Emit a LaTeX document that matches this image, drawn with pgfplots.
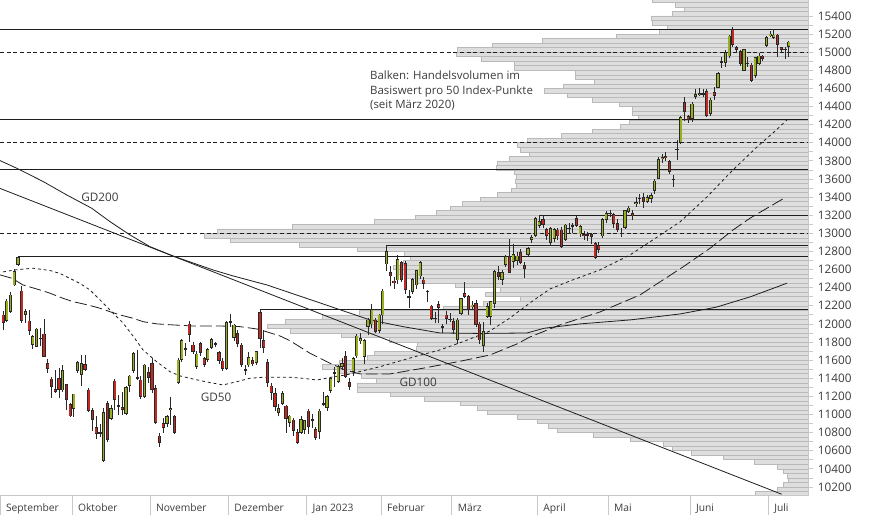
\documentclass[border=0pt]{standalone}
\usepackage{pgfplots}
\pgfplotsset{compat=1.18}
\usepackage{pgfplotstable}
\usepackage{fontspec}
\setmainfont{Open Sans}

\definecolor{upc}{RGB}{155,174,32}
\definecolor{dnc}{RGB}{192,42,34}
\definecolor{edge}{RGB}{40,40,40}
\definecolor{volfill}{RGB}{222,222,222}
\definecolor{volline}{RGB}{185,185,185}
\definecolor{axisgray}{RGB}{200,200,200}
\definecolor{txt}{RGB}{60,60,60}
\definecolor{lvl}{RGB}{30,30,30}

% daily candles: k = trading day since 6 Sep 2022
\pgfplotstableread{
k o h l c
0 12099 12147 11933 12014
1 12036 12272 12025 12254
2 12136 12357 12125 12320
3 12430 12603 12423 12577
4 12651 12750 12644 12736
5 12364 12419 12007 12036
6 12099 12165 12014 12136
7 12033 12154 11878 11926
8 11768 11878 11720 11860
9 11749 11952 11742 11944
10 11835 11952 11757 11845
11 11889 12055 11639 11639
12 11565 11613 11462 11510
13 11392 11418 11179 11308
14 11278 11492 11234 11253
15 11400 11510 11179 11278
16 11271 11547 11253 11484
17 11334 11337 11050 11168
18 11113 11124 10977 10984
19 11069 11227 10977 11227
20 11484 11595 11462 11576
21 11437 11657 11319 11565
22 11554 11657 11484 11492
23 11271 11293 11032 11043
24 11043 11069 10822 10940
25 10859 10984 10726 10793
26 10805 10892 10756 10795
27 10491 11069 10472 11024
28 11124 11153 10700 10720
29 10960 11100 10940 11069
30 11371 11390 11050 11161
31 11090 11216 10995 11100
32 11080 11250 10990 11058
33 11007 11320 10990 11301
34 11316 11440 11250 11426
35 11485 11690 11460 11676
36 11405 11713 11382 11398
37 11382 11426 11168 11198
38 11198 11560 11180 11547
39 11463 11520 11350 11411
40 11566 11620 11240 11279
41 11290 11330 10900 10911
42 10764 10800 10646 10690
43 10903 10960 10800 10856
44 10903 11000 10860 10977
45 11050 11190 10885 11065
46 10977 11000 10790 10800
47 11352 11620 11340 11603
48 11603 11830 11580 11816
49 11725 11790 11650 11715
50 12000 12030 11800 11879
51 11768 11800 11670 11695
52 11529 11700 11500 11669
53 11787 11800 11650 11687
54 11621 11640 11520 11555
55 11603 11730 11580 11720
56 11739 11850 11720 11831
57 11770 11800 11740 11780
58 11684 11700 11560 11592
59 11592 11620 11480 11511
60 11511 12030 11490 12015
61 12020 12110 11970 12030
62 11853 12000 11810 11989
63 11897 11930 11740 11787
64 11768 11790 11520 11555
65 11495 11550 11440 11490
66 11547 11690 11520 11632
67 11595 11640 11540 11558
68 11573 11700 11550 11695
69 12125 12160 11730 11842
70 11816 11930 11680 11742
71 11573 11610 11300 11352
72 11316 11350 11160 11242
73 11235 11290 11040 11087
74 11021 11120 10980 11069
75 11117 11260 11100 11235
76 11095 11110 10800 10959
77 10911 11000 10860 10984
78 10940 10960 10760 10822
79 10804 10840 10680 10690
80 10800 10980 10780 10948
81 10830 10940 10780 10933
82 11040 11060 10790 10867
83 10935 11010 10850 10945
84 10837 10860 10720 10745
85 10812 11060 10730 11040
86 11120 11250 11090 11110
87 11080 11210 11040 11198
88 11264 11410 11240 11400
89 11455 11520 11300 11465
90 11363 11550 11350 11529
91 11528 11620 11490 11565
92 11639 11700 11400 11418
93 11352 11400 11270 11307
94 11473 11640 11420 11620
95 11646 11890 11620 11867
96 11815 11900 11780 11841
97 11639 11830 11560 11815
98 11970 12060 11880 12043
99 11999 12220 11960 12161
100 12043 12060 11900 11915
101 11926 12110 11900 12099
102 12099 12390 12000 12364
103 12662 12870 12580 12798
104 12566 12640 12420 12529
105 12475 12520 12390 12460
106 12485 12760 12440 12713
107 12676 12700 12460 12492
108 12669 12700 12330 12382
109 12300 12370 12180 12305
110 12356 12510 12330 12492
111 12430 12600 12380 12588
112 12529 12690 12500 12680
113 12485 12520 12390 12448
114 12360 12380 12240 12365
115 12198 12210 12040 12062
116 12060 12136 12007 12065
117 12217 12250 12007 12180
118 11975 12000 11897 11968
119 12099 12140 12000 12062
120 12055 12120 12020 12045
121 12026 12060 11890 11934
122 11831 12060 11780 12044
123 12118 12290 12100 12283
124 12339 12467 12290 12302
125 12302 12320 12100 12155
126 12195 12250 12150 12210
127 12228 12260 11970 11989
128 12000 12020 11780 11823
129 11757 12020 11695 11915
130 12081 12230 12060 12191
131 12081 12255 11990 12247
132 12221 12590 12180 12578
133 12567 12640 12490 12523
134 12493 12600 12430 12567
135 12651 12760 12630 12743
136 12743 12935 12560 12570
137 12690 12880 12620 12770
138 12699 12790 12650 12751
139 12787 12830 12660 12677
140 12648 12680 12510 12615
141 12762 12850 12740 12835
142 12935 12980 12890 12957
143 12972 13180 12960 13167
144 13082 13200 13060 13130
145 13156 13200 13060 13100
146 13045 13060 12930 12972
147 12898 13070 12860 13056
148 12946 13060 12900 13045
149 13038 13060 12930 12971
150 13038 13070 12840 12854
151 12935 13100 12910 13093
152 13060 13110 12990 13052
153 13075 13110 13000 13085
154 13166 13200 13070 13082
155 12993 13090 12960 13074
156 12990 13030 12930 12970
157 12978 13020 12920 12986
158 12985 13000 12880 12968
159 12890 12900 12720 12732
160 12861 12909 12780 12817
161 12971 13170 12950 13155
162 13148 13250 13110 13222
163 13218 13260 13180 13226
164 13210 13230 13060 13111
165 13111 13160 13020 13038
166 13005 13060 12960 12995
167 13063 13260 13050 13251
168 13244 13300 13220 13280
169 13222 13260 13150 13192
170 13325 13400 13290 13340
171 13385 13430 13320 13390
172 13398 13440 13280 13347
173 13350 13420 13330 13398
174 13387 13450 13340 13420
175 13472 13600 13430 13578
176 13608 13840 13600 13818
177 13820 13880 13780 13838
178 13845 13900 13800 13832
179 13790 13810 13660 13678
180 13600 13645 13516 13595
181 13925 14031 13810 13930
182 14000 14290 13990 14281
183 14443 14502 14244 14344
184 14290 14310 14220 14259
185 14270 14450 14230 14428
186 14512 14590 14480 14535
187 14530 14600 14520 14546
188 14540 14590 14500 14546
189 14564 14590 14280 14296
190 14318 14490 14300 14472
191 14557 14610 14470 14524
192 14612 14780 14600 14767
193 14892 14950 14820 14900
194 14888 15020 14840 14995
195 14958 15190 14940 15179
196 15245 15280 15060 15080
197 15054 15070 15000 15032
198 15006 15020 14850 14870
199 14796 15040 14790 15032
200 14880 14950 14840 14875
201 14859 14880 14670 14686
202 14741 14950 14720 14940
203 14870 14990 14860 14958
204 14958 14970 14900 14932
205 15076 15180 15060 15164
206 15186 15230 15170 15201
207 15164 15260 15150 15190
208 15190 15200 14950 15083
209 15054 15060 15000 15032
210 15030 15054 14921 15035
211 15061 15125 14950 15113
}\candles

% volume profile: p = lower bound of the 50-point band, len = bar length
\pgfplotstableread{
p len
15550 156
15500 133
15450 124
15400 136
15350 157
15300 156
15250 141
15200 149
15150 192
15100 266
15050 316
15000 351
14950 352
14900 327
14850 294
14800 294
14750 233
14700 233
14650 214
14600 245
14550 264
14500 241
14450 216
14400 189
14350 176
14300 176
14250 170
14200 179
14150 188
14100 216
14050 247
14000 281
13950 291
13900 288
13850 279
13800 299
13750 311
13700 312
13650 294
13600 292
13550 293
13500 292
13450 297
13400 311
13350 328
13300 346
13250 358
13200 372
13150 393
13100 434
13050 516
13000 591
12950 604
12900 578
12850 509
12800 451
12750 404
12700 398
12650 405
12600 415
12550 412
12500 404
12450 393
12400 353
12350 308
12300 323
12250 288
12200 325
12150 365
12100 449
12050 486
12000 523
11950 541
11900 518
11850 467
11800 419
11750 391
11700 392
11650 434
11600 441
11550 469
11500 486
11450 469
11400 447
11350 432
11300 451
11250 451
11200 418
11150 384
11100 348
11050 331
11000 321
10950 291
10900 271
10850 260
10800 251
10750 215
10700 178
10650 145
10600 136
10550 117
10500 85
10450 54
10400 31
10350 25
10300 21
10250 20
10200 25
10150 31
10100 53
}\vol

\newcommand\tickfont{\fontsize{8.8}{10}\selectfont}
\newcommand\monthfont{\fontsize{7.7}{9}\selectfont}
\newcommand\notefont{\fontsize{8.6}{10.9}\selectfont}

\pgfplotsset{
  chartframe/.style={
    at={(0pt,14.5pt)}, anchor=south west, scale only axis,
    width=606.2pt, height=371.8pt,
    ymin=10104, ymax=15576.6,
  },
  candle/.style={draw=none, mark=none,
    error bars/y dir=both, error bars/y explicit, error bars/error mark=none,
    error bars/error bar style={#1}},
}

\begin{document}
\begin{tikzpicture}
\useasboundingbox (0,0) rectangle (655.5pt,386.25pt);

% volume profile, bars grow leftwards from the price axis
\begin{axis}[chartframe, hide axis, x dir=reverse, xmin=0, xmax=808.3,
  xbar, bar width=50]
\addplot[fill=volfill, draw=volline, line width=0.45pt]
  table[x=len, y expr=\thisrow{p}+25] {\vol};
\end{axis}

\begin{axis}[chartframe, xmin=-0.336, xmax=216.75,
  axis x line*=bottom, axis y line*=right,
  axis line style={axisgray, line width=0.6pt},
  tick align=outside, major tick length=3.75pt, minor tick length=3.75pt,
  ytick={10200,10400,...,15400}, minor y tick num=1,
  scaled y ticks=false,
  ytick style={axisgray, line width=0.6pt},
  xtick={-0.336,19,40,61,82,102,121,144,163,185,206},
  xticklabels={September,Oktober,November,Dezember,Jan 2023,Februar,März,April,Mai,Juni,Juli},
  xtick style={axisgray, line width=0.6pt, /pgfplots/major tick length=14.5pt},
  xticklabel style={anchor=north west, font=\monthfont, text=txt, xshift=1pt, yshift=1.2pt},
  yticklabel style={font=\tickfont, text=txt, /pgf/number format/1000 sep={}},
  /pgf/number format/assume math mode=true,
]
% horizontal levels
\addplot[lvl, line width=0.7pt] coordinates {(-0.336,15255) (216.75,15255)};
\addplot[lvl, line width=0.7pt, dash pattern=on 3pt off 2pt] coordinates {(-0.336,15000) (216.75,15000)};
\addplot[lvl, line width=0.7pt] coordinates {(-0.336,14262) (216.75,14262)};
\addplot[lvl, line width=0.7pt, dash pattern=on 3pt off 2pt] coordinates {(-0.336,14000) (216.75,14000)};
\addplot[lvl, line width=0.7pt] coordinates {(-0.336,13708) (216.75,13708)};
\addplot[lvl, line width=0.7pt] coordinates {(144.5,13195) (216.75,13195)};
\addplot[lvl, line width=0.7pt, dash pattern=on 3pt off 2pt] coordinates {(-0.336,13000) (216.75,13000)};
\addplot[lvl, line width=0.7pt] coordinates {(103.5,12870) (216.75,12870)};
\addplot[lvl, line width=0.7pt] coordinates {(4.5,12750) (216.75,12750)};
\addplot[lvl, line width=0.7pt] coordinates {(69.5,12160) (216.75,12160)};

% trend line
\addplot[lvl, line width=0.6pt] coordinates {(-0.336,13496) (209.6,10120)};

% GD200
\addplot[lvl, line width=0.6pt] coordinates {
(-0.336,13803) (4.15,13719) (11.29,13571) (17.58,13424) (24.29,13277) (29.21,13129)
(34.58,12982) (39.95,12853) (46.13,12750) (56.87,12596) (62.24,12530) (71.37,12430)
(85.61,12232) (99.04,12044) (107.9,11970) (117.83,11900) (128.6,11895) (141.2,11900)
(145.8,11952) (155.4,12000) (168.85,12044) (182.3,12110) (191.96,12184) (201.1,12298)
(211.0,12449)};

% GD100
\addplot[lvl, line width=0.6pt, dash pattern=on 9pt off 3pt] coordinates {
(-0.336,12541) (2.89,12504) (5.84,12430) (10.41,12375) (13.09,12339) (16.58,12283)
(19.27,12246) (23.3,12209) (26.52,12173) (29.21,12135) (31.89,12099) (35.38,12063)
(38.07,12025) (41.83,12000) (46.13,11989) (51.5,11977) (58.75,11977) (64.12,11970)
(68.69,11944) (70.3,11926) (74.87,11867) (77.55,11815) (82.92,11676) (88.29,11566)
(92.32,11492) (96.35,11448) (104.4,11448) (113.27,11511) (122.67,11583) (131.26,11657)
(138.51,11779) (142.0,11856) (146.03,11922) (150.06,11989) (160.8,12132) (171.55,12320)
(183.1,12629) (190.35,12835) (196.53,13037) (201.1,13167) (205.65,13277) (210.5,13394)};

% GD50
\addplot[lvl, line width=0.6pt, dash pattern=on 2.2pt off 2.2pt] coordinates {
(0.47,12574) (3.69,12596) (8.53,12615) (13.09,12590) (15.78,12557) (18.47,12502)
(21.15,12447) (23.83,12375) (26.52,12265) (29.21,12154) (32.7,12011) (35.38,11867)
(38.07,11713) (41.83,11580) (45.32,11473) (48.0,11426) (51.5,11392) (55.26,11359)
(59.55,11326) (63.31,11363) (66.8,11400) (70.3,11411) (77.55,11411) (81.04,11400)
(84.8,11381) (89.1,11415) (92.59,11437) (101.72,11528) (111.12,11639) (117.83,11713)
(124.55,11812) (131.26,11922) (136.63,12066) (142.0,12232) (147.37,12386) (152.74,12474)
(160.8,12596) (168.85,12761) (175.8,12949) (182.3,13126) (189.54,13402) (196.53,13700)
(202.97,13954) (207.27,14108) (211.03,14252)};

% candles: wicks, dark body, coloured core
\addplot[candle={draw=edge, line width=0.6pt}]
  table[x expr=\thisrow{k}+0.5, y expr=(\thisrow{h}+\thisrow{l})/2,
        y error expr=(\thisrow{h}-\thisrow{l})/2] {\candles};
\addplot[candle={draw=edge, line width=2.4pt}]
  table[x expr=\thisrow{k}+0.5, y expr=(\thisrow{o}+\thisrow{c})/2,
        y error expr=abs(\thisrow{c}-\thisrow{o})/2+4] {\candles};
\addplot[candle={draw=upc, line width=1.2pt},
  restrict expr to domain={\thisrow{c}-\thisrow{o}}{0:100000}]
  table[x expr=\thisrow{k}+0.5, y expr=(\thisrow{o}+\thisrow{c})/2,
        y error expr={max(abs(\thisrow{c}-\thisrow{o})/2-5,0)}] {\candles};
\addplot[candle={draw=dnc, line width=1.2pt},
  restrict expr to domain={\thisrow{c}-\thisrow{o}}{-100000:-0.5}]
  table[x expr=\thisrow{k}+0.5, y expr=(\thisrow{o}+\thisrow{c})/2,
        y error expr={max(abs(\thisrow{c}-\thisrow{o})/2-5,0)}] {\candles};

% annotations
\node[anchor=north west, align=left, inner sep=0pt, font=\notefont, text=txt]
  at (axis cs:99,14793) {Balken: Handelsvolumen im\\Basiswert pro 50 Index-Punkte\\(seit März 2020)};
\node[font=\tickfont, text=txt] at (axis cs:26.5,13402) {GD200};
\node[font=\tickfont, text=txt] at (axis cs:57.7,11194) {GD50};
\node[font=\tickfont, text=txt] at (axis cs:112,11359) {GD100};
\end{axis}
\end{tikzpicture}
\end{document}
